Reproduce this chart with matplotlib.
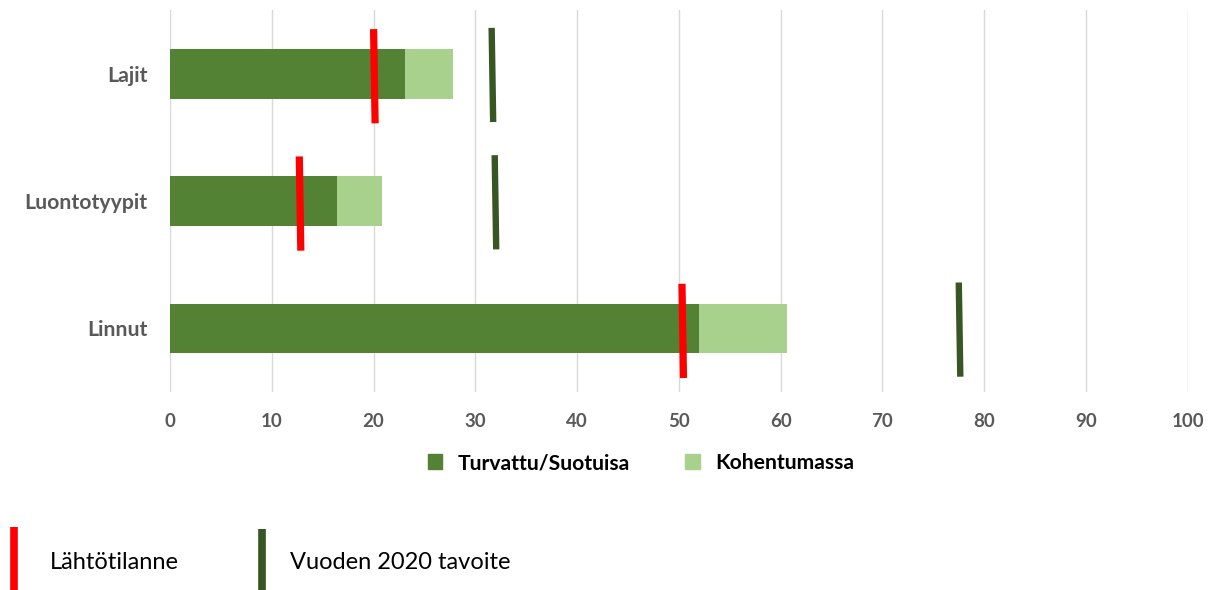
import matplotlib
matplotlib.use("Agg")
import matplotlib.pyplot as plt
from matplotlib.patches import Patch

plt.rcParams["font.family"] = ["Lato", "DejaVu Sans"]

# -- data ------------------------------------------------------------------
categories = ["Lajit", "Luontotyypit", "Linnut"]
turvattu = [23.1, 16.4, 52.0]          # Turvattu/Suotuisa
kohentumassa = [4.7, 4.4, 8.6]         # Kohentumassa (stacked on top)
lahtotilanne = [20.0, 12.7, 50.3]      # starting point (red marker)
tavoite_2020 = [31.6, 31.9, 77.5]      # 2020 target (dark green marker)
x_ticks = list(range(0, 101, 10))

DARK = "#548235"
LIGHT = "#A9D18E"
TARGET = "#375623"
RED = "#FF0000"
GREY = "#595959"

fig = plt.figure(figsize=(12.12, 5.90), dpi=100)
ax = fig.add_axes([0.1403, 0.3356, 0.8397, 0.6474])

ypos = list(range(len(categories)))
ax.barh(ypos, turvattu, height=0.39, color=DARK, label="Turvattu/Suotuisa", zorder=2)
ax.barh(ypos, kohentumassa, left=turvattu, height=0.39, color=LIGHT,
        label="Kohentumassa", zorder=2)

# markers: slightly tilted short lines across each bar
half, tilt = 0.37, 0.15
for y, r, t in zip(ypos, lahtotilanne, tavoite_2020):
    ax.plot([r, r + tilt], [y - half + 0.02, y + half + 0.02], color=RED, lw=5.2,
            solid_capstyle="butt", zorder=4)
    ax.plot([t, t + tilt], [y - half + 0.01, y + half + 0.01], color=TARGET, lw=4.6,
            solid_capstyle="butt", zorder=4)

ax.set_xlim(0, 100)
ax.set_ylim(-0.5, len(categories) - 0.5)
ax.invert_yaxis()
ax.set_yticks(ypos)
ax.set_yticklabels(categories)
ax.set_xticks(x_ticks)
ax.grid(axis="x", color="#D9D9D9", lw=1, zorder=0)
for s in ax.spines.values():
    s.set_visible(False)
ax.tick_params(axis="both", length=0, colors=GREY)
ax.tick_params(axis="y", pad=16, labelsize=15.3)
ax.tick_params(axis="x", pad=15, labelsize=13.5)
for lab in ax.get_xticklabels() + ax.get_yticklabels():
    lab.set_fontweight("bold")

handles = [Patch(color=DARK, label="Turvattu/Suotuisa"),
           Patch(color=LIGHT, label="Kohentumassa")]
fig.legend(handles=handles, loc="center", bbox_to_anchor=(0.529, 0.215), ncol=2,
           frameon=False, handlelength=0.68, handleheight=0.68, handletextpad=0.75,
           columnspacing=2.6, borderpad=0, prop={"weight": "bold", "size": 15.2})

# bottom manual legend for the markers
fig.add_artist(plt.Line2D([14 / 1212, 14 / 1212], [0, 0.107], color=RED, lw=5.5,
                          solid_capstyle="butt"))
fig.text(50 / 1212, 0.047, "Lähtötilanne", fontsize=17, va="center", color="black")
fig.add_artist(plt.Line2D([262 / 1212, 262 / 1212], [0, 0.104], color=TARGET, lw=5.5,
                          solid_capstyle="butt"))
fig.text(290 / 1212, 0.047, "Vuoden 2020 tavoite", fontsize=17, va="center",
         color="black")

fig.savefig("out.png", dpi=100)
